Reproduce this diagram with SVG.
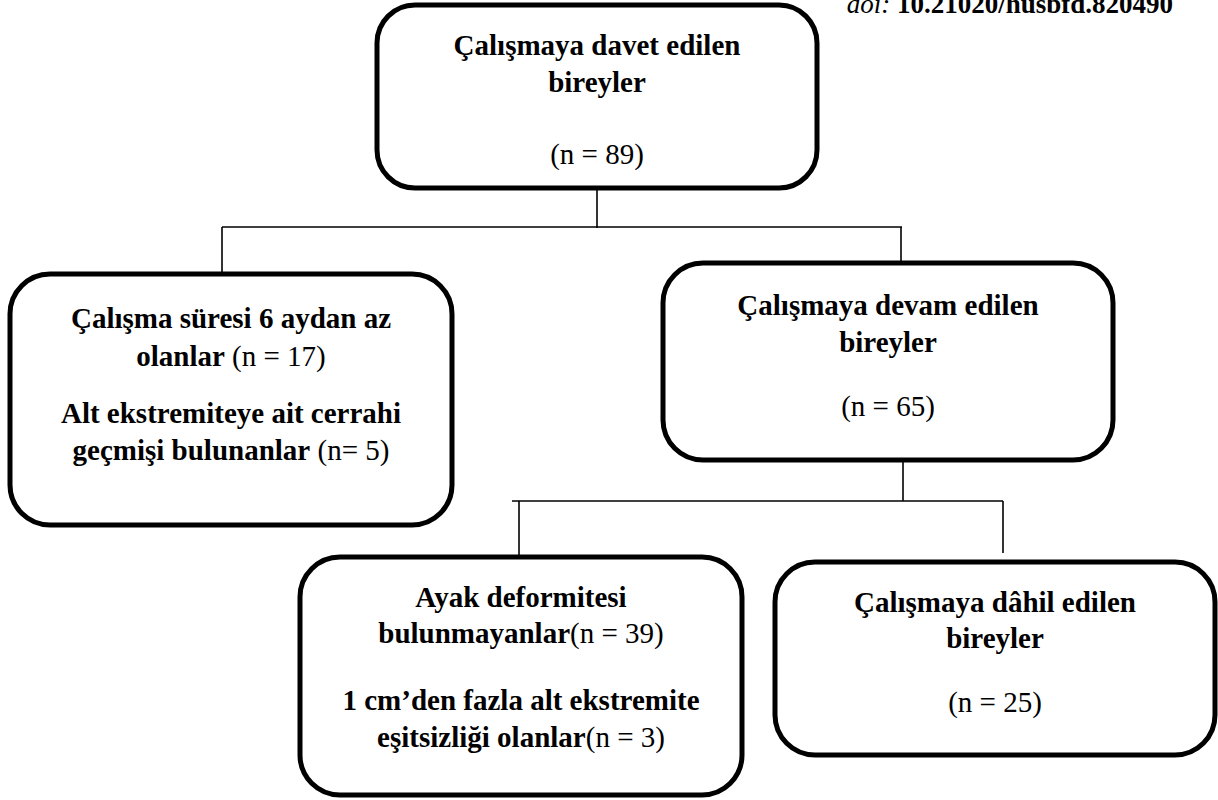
<svg xmlns="http://www.w3.org/2000/svg" width="1218" height="800" viewBox="0 0 1218 800">
<style>
.box{fill:#fff;stroke:#000;stroke-width:5}
.ln{stroke:#000;stroke-width:1.6;fill:none}
text{font-family:"Liberation Serif","Times New Roman",serif;font-size:29px;fill:#000;text-anchor:middle}
.b{font-weight:bold}
</style>
<rect width="1218" height="800" fill="#fff"/>
<text x="1173" y="13" style="text-anchor:end;font-size:27px"><tspan font-style="italic">doi:</tspan> <tspan font-weight="bold">10.21020/husbfd.820490</tspan></text>
<g id="connectors">
<line class="ln" x1="597" y1="188" x2="597" y2="228"/>
<line class="ln" x1="222" y1="227" x2="902" y2="227"/>
<line class="ln" x1="222" y1="227" x2="222" y2="274"/>
<line class="ln" x1="901" y1="227" x2="901" y2="263"/>
<line class="ln" x1="903" y1="460" x2="903" y2="501"/>
<line class="ln" x1="512" y1="501" x2="1003" y2="501"/>
<line class="ln" x1="519" y1="501" x2="519" y2="557"/>
<line class="ln" x1="1003" y1="501" x2="1003" y2="553"/>
</g>
<g id="n1">
<rect class="box" x="377" y="5" width="440" height="183" rx="38"/>
<text class="b" x="597" y="55">Çalışmaya davet edilen</text>
<text class="b" x="597" y="92">bireyler</text>
<text x="597" y="164">(n = 89)</text>
</g>
<g id="n2">
<rect class="box" x="10" y="274" width="442" height="251" rx="40"/>
<text x="231" y="328"><tspan class="b">Çalışma süresi 6 aydan az</tspan></text>
<text x="231" y="366"><tspan class="b">olanlar</tspan> (n = 17)</text>
<text x="231" y="423"><tspan class="b">Alt ekstremiteye ait cerrahi</tspan></text>
<text x="231" y="460"><tspan class="b">geçmişi bulunanlar</tspan> (n= 5)</text>
</g>
<g id="n3">
<rect class="box" x="663" y="263" width="450" height="197" rx="40"/>
<text class="b" x="888" y="315">Çalışmaya devam edilen</text>
<text class="b" x="888" y="352">bireyler</text>
<text x="888" y="416">(n = 65)</text>
</g>
<g id="n4">
<rect class="box" x="300" y="557" width="442" height="238" rx="40"/>
<text x="521" y="607"><tspan class="b">Ayak deformitesi</tspan></text>
<text x="521" y="643"><tspan class="b">bulunmayanlar</tspan>(n = 39)</text>
<text x="521" y="710"><tspan class="b">1 cm’den fazla alt ekstremite</tspan></text>
<text x="521" y="747"><tspan class="b">eşitsizliği olanlar</tspan>(n = 3)</text>
</g>
<g id="n5">
<rect class="box" x="775" y="562" width="440" height="193" rx="40"/>
<text class="b" x="995" y="612">Çalışmaya dâhil edilen</text>
<text class="b" x="995" y="648">bireyler</text>
<text x="995" y="712">(n = 25)</text>
</g>
</svg>
